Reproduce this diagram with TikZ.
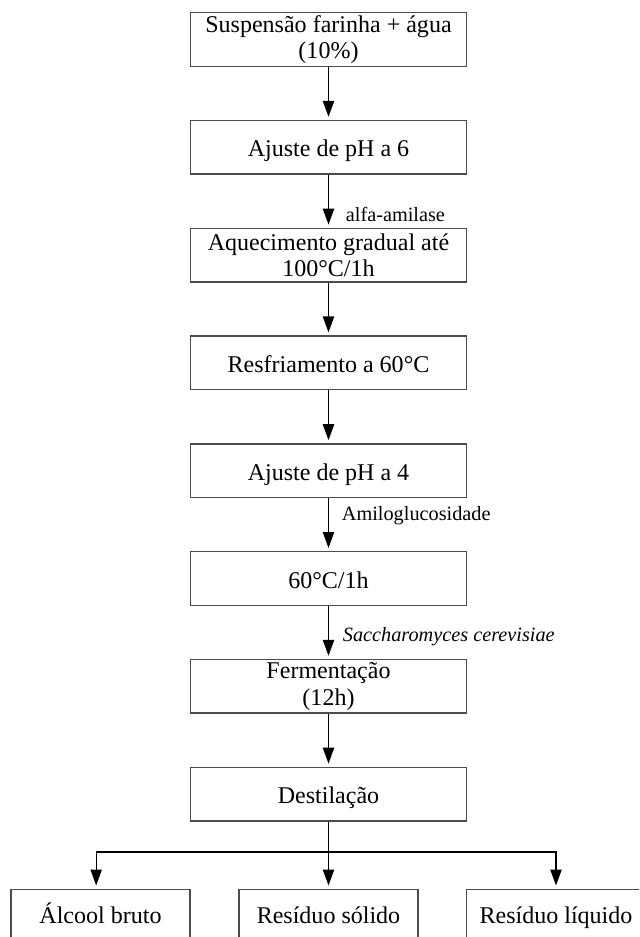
\documentclass[tikz,border=0pt]{standalone}
\usepackage{fontspec}
\setmainfont{Liberation Serif}
\usetikzlibrary{arrows.meta}

\tikzset{
  stepbox/.style={shape=rectangle, draw=black!70, line width=0.04cm,
    minimum width=8.26cm, minimum height=1.61cm, inner sep=0pt,
    align=center, font=\fontsize{20.5}{22.5}\selectfont},
  onebox/.style={stepbox, text height=0.62cm, text depth=0.05cm},
  outbox/.style={stepbox, minimum width=5.37cm, text height=0.5cm, text depth=0.08cm},
  flow/.style={line width=0.04cm, -{Triangle[length=0.48cm,width=0.34cm]}, shorten >=0.09cm},
  lbl/.style={anchor=base west, inner sep=0pt, font=\fontsize{17.3}{19}\selectfont}
}

\begin{document}
\begin{tikzpicture}[x=0.03cm,y=-0.03cm]
  \useasboundingbox (0,0) rectangle (639,937);
  \clip (0,0) rectangle (639,937);

  \node (b1) at (328.5,39.5) [stepbox] {Suspensão farinha + água\\(10\%)} ;
  \node (b2) at (328.5,147.3) [onebox] {Ajuste de pH a 6} ;
  \node (b3) at (328.5,255.1) [stepbox] {Aquecimento gradual até\\100°C/1h} ;
  \node (b4) at (328.5,362.9) [onebox] {Resfriamento a 60°C} ;
  \node (b5) at (328.5,470.7) [onebox] {Ajuste de pH a 4} ;
  \node (b6) at (328.5,578.5) [onebox] {60°C/1h} ;
  \node (b7) at (328.5,686.3) [stepbox] {Fermentação\\(12h)} ;
  \node (b8) at (328.5,794.1) [onebox] {Destilação} ;

  \node (alc) at (100.5,916) [outbox] {Álcool bruto} ;
  \node (sol) at (328.5,916) [outbox] {Resíduo sólido} ;
  \node (liq) at (556,916) [outbox] {Resíduo líquido} ;

  \node (l1) at (345.7,221.7) [lbl] {alfa-amilase} ;
  \node (l2) at (341.7,520) [lbl] {Amiloglucosidade} ;
  \node (l3) at (342.7,641.7) [lbl] {\itshape Saccharomyces cerevisiae} ;

  \draw [flow] (b1) -- (b2);
  \draw [flow] (b2) -- (b3);
  \draw [flow] (b3) -- (b4);
  \draw [flow] (b4) -- (b5);
  \draw [flow] (b5) -- (b6);
  \draw [flow] (b6) -- (b7);
  \draw [flow] (b7) -- (b8);

  \coordinate (split) at (328.5,852);
  \draw [line width=0.04cm] (b8) -- (split);
  \draw [flow] (split) -| ([xshift=-0.13cm]alc.north);
  \draw [flow] (split) -- (sol.north);
  \draw [flow] (split) -| (liq.north);
\end{tikzpicture}
\end{document}
